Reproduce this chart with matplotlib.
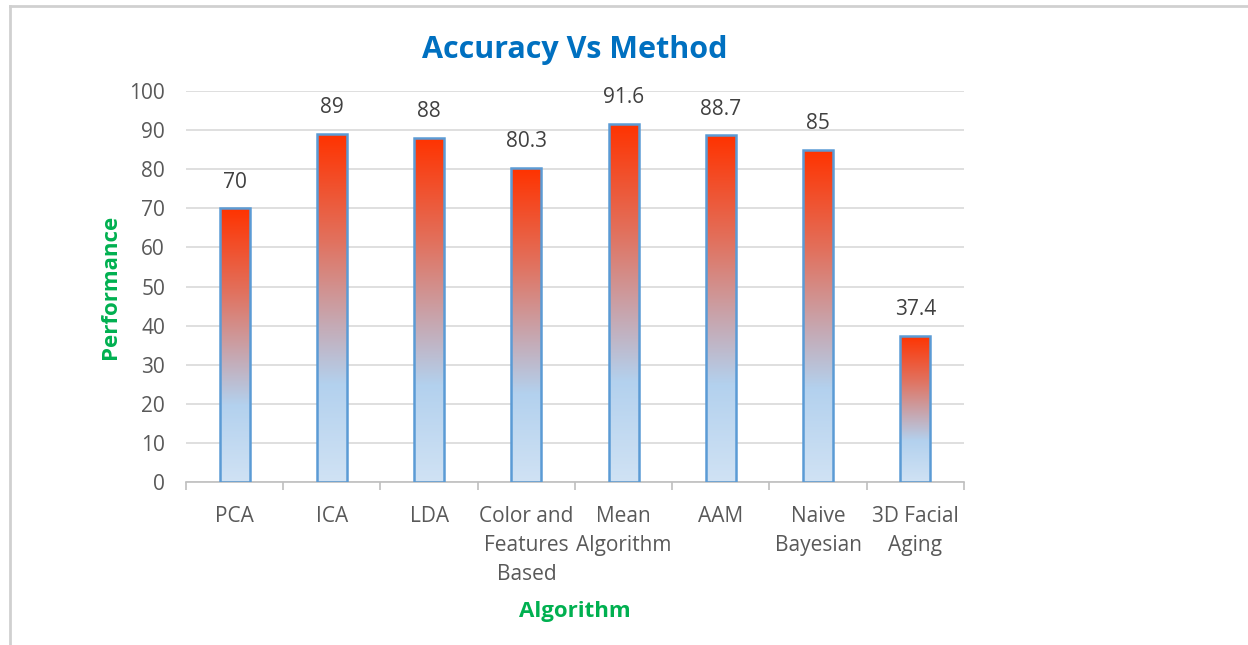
import numpy as np
import matplotlib
matplotlib.use('Agg')
import matplotlib.pyplot as plt
from matplotlib.colors import LinearSegmentedColormap
from matplotlib.lines import Line2D

# datos del grafico
methods = ['PCA', 'ICA', 'LDA', 'Color and\nFeatures\nBased', 'Mean\nAlgorithm',
           'AAM', 'Naive\nBayesian', '3D Facial\nAging']
accuracy = [70, 89, 88, 80.3, 91.6, 88.7, 85, 37.4]
value_labels = ['70', '89', '88', '80.3', '91.6', '88.7', '85', '37.4']

plt.rcParams['font.family'] = ['Open Sans', 'DejaVu Sans']

grad = LinearSegmentedColormap.from_list('grad', [
    (0.0, '#d0e2f4'), (0.28, '#b3d1ee'), (0.45, '#c5aab5'),
    (0.7, '#e2705c'), (1.0, '#ff3300')])

fig = plt.figure(figsize=(12.48, 6.45), dpi=100)
ax = fig.add_axes([0.149, 0.2527, 0.6234, 0.6062])

x = np.arange(len(methods))
bars = ax.bar(x, accuracy, width=0.31, facecolor='none', edgecolor='#5b9bd5',
              linewidth=1.8, zorder=3)

g = np.linspace(0, 1, 256).reshape(-1, 1)
for b in bars:
    x0, w, h = b.get_x(), b.get_width(), b.get_height()
    im = ax.imshow(g, cmap=grad, origin='lower', aspect='auto',
                   extent=[x0, x0 + w, 0, h], zorder=2)
    im.set_clip_path(b)

for xi, v, lab in zip(x, accuracy, value_labels):
    ax.text(xi, v + 4, lab, ha='center', va='bottom', fontsize=15, color='#404040')

ax.set_xlim(-0.5, len(methods) - 0.5)
ax.set_ylim(0, 100)
ax.set_yticks(range(0, 101, 10))
ax.yaxis.grid(True, color='#d9d9d9', linewidth=1.2, zorder=0)
ax.set_axisbelow(True)
for s in ['top', 'right', 'left']:
    ax.spines[s].set_visible(False)
ax.spines['bottom'].set_color('#bfbfbf')
ax.spines['bottom'].set_linewidth(1.2)
ax.tick_params(axis='y', length=0, labelsize=15, labelcolor='#595959', pad=15)

ax.set_xticks(x)
ax.set_xticklabels(methods, fontsize=15, color='#595959', linespacing=1.5)
ax.set_xticks(np.arange(-0.5, len(methods)), minor=True)
ax.tick_params(axis='x', which='major', length=0, pad=17)
ax.tick_params(axis='x', which='minor', length=6, color='#bfbfbf', width=1.2)

ax.set_title('Accuracy Vs Method', fontsize=22, fontweight='bold', color='#0070c0', pad=24)
ax.set_ylabel('Performance', fontsize=16, fontweight='bold', color='#00b050', labelpad=6)
ax.set_xlabel('Algorithm', fontsize=16, fontweight='bold', color='#00b050', labelpad=12)

# marco de la imagen
fig.add_artist(Line2D([10 / 1248, 1], [1 - 6 / 645, 1 - 6 / 645], color='#d0d0d0', lw=2))
fig.add_artist(Line2D([10 / 1248, 10 / 1248], [0, 1 - 6 / 645], color='#d0d0d0', lw=2))

fig.savefig('out.png', dpi=100)
